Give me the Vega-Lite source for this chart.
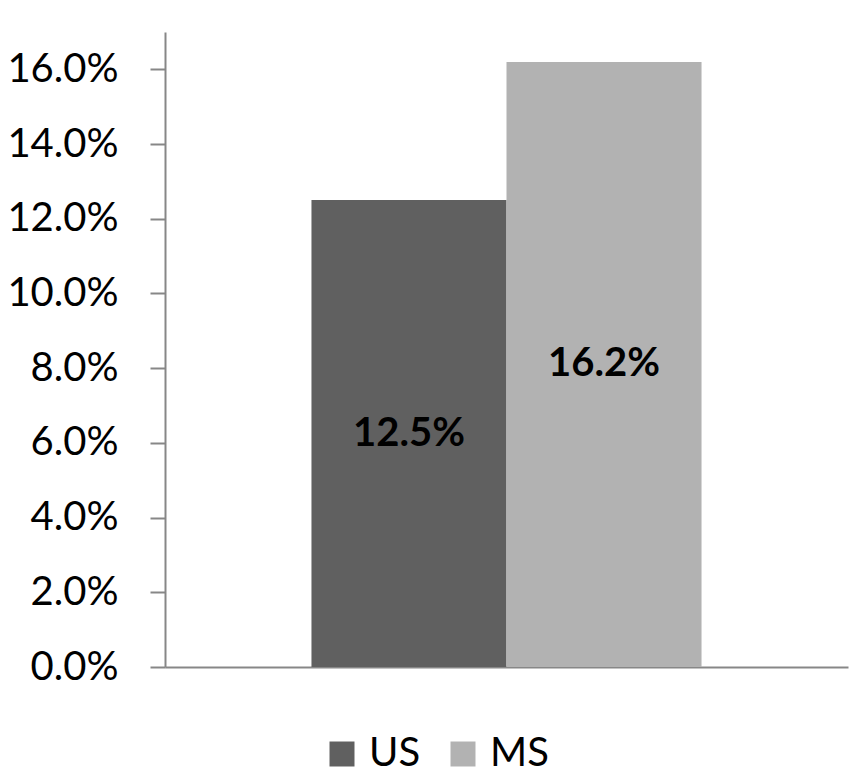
{
  "$schema": "https://vega.github.io/schema/vega-lite/v6.json",
  "width": 683,
  "height": 635,
  "autosize": {"type": "none"},
  "padding": {"left": 165, "top": 32, "right": 18, "bottom": 111},
  "background": "white",
  "config": {"view": {"stroke": null}, "font": "Lato"},
  "data": {"values": [
    {"series": "US", "value": 0.125},
    {"series": "MS", "value": 0.162}
  ]},
  "encoding": {
    "x": {
      "field": "series", "type": "nominal", "sort": ["US", "MS"],
      "scale": {"paddingInner": 0, "paddingOuter": 0.751},
      "axis": {"labels": false, "ticks": false, "title": null, "domainColor": "#878787", "domainWidth": 2}
    }
  },
  "layer": [
    {
      "mark": {"type": "bar"},
      "encoding": {
        "y": {
          "field": "value", "type": "quantitative",
          "scale": {"domain": [0, 0.17], "nice": false},
          "axis": {
            "values": [0, 0.02, 0.04, 0.06, 0.08, 0.1, 0.12, 0.14, 0.16],
            "format": ".1%", "title": null, "grid": false,
            "tickSize": 15, "tickColor": "#878787", "tickWidth": 2,
            "domainColor": "#878787", "domainWidth": 2,
            "labelFontSize": 40, "labelColor": "black", "labelPadding": 32,
            "labelFont": "Lato"
          }
        },
        "color": {
          "field": "series", "type": "nominal",
          "scale": {"domain": ["US", "MS"], "range": ["#606060", "#b2b2b2"]},
          "legend": {
            "orient": "none", "legendX": 157, "legendY": 702,
            "direction": "horizontal", "title": null,
            "symbolType": "square", "symbolSize": 625, "symbolStrokeWidth": 0,
            "labelFontSize": 40, "labelColor": "black", "labelFont": "Lato",
            "labelOffset": 7, "columnPadding": 22, "padding": 0
          }
        }
      }
    },
    {
      "transform": [{"calculate": "datum.value / 2", "as": "mid"}],
      "mark": {"type": "text", "fontWeight": "bold", "fontSize": 40, "color": "black", "baseline": "middle", "font": "Lato"},
      "encoding": {
        "y": {"field": "mid", "type": "quantitative"},
        "text": {"field": "value", "type": "quantitative", "format": ".1%"}
      }
    }
  ]
}
